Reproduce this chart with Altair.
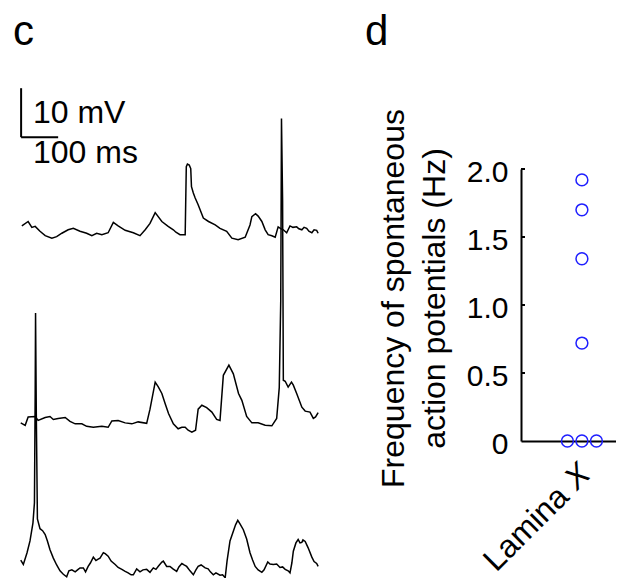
import altair as alt
import pandas as pd

# ---------------- Panel c: three membrane-potential traces ----------------
# time (ms) and voltage (mV, relative to each trace's starting level)
T1_TIME = [5, 22, 32, 41, 54, 68, 86, 99, 113, 130, 144, 162, 180, 194, 207, 221, 238, 252, 265, 284,
           306, 324, 338, 351, 365, 383, 400, 414, 421, 432, 446, 449, 452, 457, 461, 463, 468, 473, 481, 495,
           509, 527, 540, 558, 572, 589, 608, 621, 626, 636, 643, 653, 662, 670, 680, 689, 697, 705, 711, 720,
           729, 737, 747, 753, 761, 767, 774, 780, 788, 794, 801, 805]
T1_MV = [0.8, 1.7, 0.5, 0.7, -0.3, -1.2, -1.7, -1.4, -0.7, 0, 0.3, -0.3, -0.7, -1.2, -0.7, -1.0, -0.6, 1.5, 0.8, -0.1,
         -0.6, -1.2, 0, 1.3, 3.5, 1.7, 0.7, 0, -0.5, -1.0, -1.0, 12.9, 13.4, 13.2, 12.5, 8.8, 7.5, 6.5, 5.1, 2.4,
         1.7, 1.0, 0.3, -0.3, -1.7, -2.0, -1.5, 1.0, 2.7, 3.3, 2.8, 1.7, 0, -1.0, -1.2, -1.5, 0.6, 0.2, 0, -0.6,
         0.8, 0.5, 0.6, 0.2, 0, 0.5, 0.3, -0.3, -0.6, 0, -0.1, -0.7]

T2_TIME = [2, 14, 22, 41, 49, 68, 81, 90, 103, 122, 135, 149, 167, 180, 198, 221, 238, 248, 265, 284,
           302, 319, 342, 351, 365, 373, 383, 392, 401, 414, 427, 437, 446, 454, 464, 474, 481, 491, 504, 518,
           531, 540, 549, 564, 576, 590, 599, 612, 626, 643, 662, 680, 693, 700, 704, 706, 709, 711, 716, 724,
           733, 738, 747, 761, 770, 783, 792, 798, 805]
T2_MV = [-0.1, -0.6, 1.1, 1.2, 0.4, 1.0, 1.2, 0.6, 0.8, 1.0, 0.2, -0.3, -0.3, -0.8, -1.0, -0.8, -1.0, 0.3, 0.4, -0.1,
         -0.3, 0.1, -0.2, 2.7, 8.2, 7.3, 5.9, 3.8, 1.8, -0.3, -1.3, -1.0, -1.0, -1.6, -2.0, -1.6, 2.7, 3.5, 3.0, 2.1,
         0.6, 0.4, 9.6, 11.7, 9.9, 5.9, 4.5, 1.2, -0.1, -0.1, -0.6, -0.7, 0.8, 7.1, 24.9, 62.0, 45.3, 8.6, 8.4, 7.2,
         8.2, 7.6, 5.9, 3.1, 2.3, 2.1, 0.8, 1.1, 2.0]

T3_TIME = [2, 9, 19, 27, 35, 39, 41, 42, 44, 47, 54, 61, 68, 74, 81, 90, 99, 108, 117, 126,
           132, 140, 149, 157, 162, 171, 177, 184, 190, 198, 205, 211, 216, 225, 230, 238, 246, 257, 265, 275,
           284, 292, 300, 306, 315, 324, 332, 342, 351, 360, 367, 374, 383, 387, 396, 405, 413, 423, 429, 437,
           443, 450, 459, 468, 475, 481, 489, 500, 508, 514, 522, 529, 540, 547, 554, 559, 567, 576, 582, 588,
           594, 603, 612, 621, 628, 635, 643, 653, 659, 669, 675, 684, 693, 702, 709, 716, 724, 729, 734, 738,
           745, 751, 756, 761, 764, 770, 778, 788, 794, 801, 805]
T3_MV = [1.6, 0.7, 3.1, 5.5, 9.2, 13.3, 35.7, 52.0, 31.6, 10.0, 8.0, 7.6, 6.8, 5.5, 3.7, 2.0, 0.6, -0.6, -1.3, -1.8,
         -0.6, -0.4, -0.8, -0.3, 0, 0, -0.8, 0.3, 1.0, 2.2, 1.5, 1.8, 2.0, 3.1, 2.9, 2.4, 1.4, 0.7, 0.1, -0.3,
         -0.7, -1.0, -1.4, -1.4, -0.2, -0.8, -0.4, -0.3, -0.9, 0, -0.3, 0.4, 1.2, 1.4, 0.3, 0.3, -0.2, -0.7, 0.2, 0.9,
         0.6, 0.3, -0.6, -1.4, -0.4, 0.3, 0.6, 0, -0.2, -0.8, -1.4, -1.0, -1.5, -1.4, -2.0, 1.4, 5.5, 7.5, 8.8, 9.7,
         9.0, 7.8, 5.9, 3.1, 1.6, 0.3, -0.4, -0.9, -0.4, 1.2, 0.8, 0.7, 0.8, 0.1, 0.2, -0.3, -0.6, -1.0, 1.0, 3.4,
         5.1, 5.8, 5.1, 5.2, 5.7, 5.4, 4.1, 2.2, 1.3, 0.9, 0.3]

TRACE_OFFSETS_MV = [73.1, 33.8, 4.1]   # vertical stacking of the traces

SCALEBAR_MV = 10
SCALEBAR_MS = 100
SCALEBAR_LABELS = ["10 mV", "100 ms"]

# ---------------- Panel d: spontaneous AP frequency ----------------
FREQ_HZ = [1.92, 1.70, 1.34, 0.72, 0.0, 0.0, 0.0]
JITTER = [0, 0, 0, 0, -1, 0, 1]
Y_TICKS = [0, 0.5, 1.0, 1.5, 2.0]
Y_TITLE = ["Frequency of spontaneous", "action potentials (Hz)"]
CATEGORY_WORD = "Lamina"
CATEGORY_MARK = "X"

FONT = "Liberation Sans"

# ---------------- build tables ----------------
rows = []
for k, (ts, vs) in enumerate([(T1_TIME, T1_MV), (T2_TIME, T2_MV), (T3_TIME, T3_MV)]):
    for t, v in zip(ts, vs):
        rows.append({"trace": k, "t": t, "v": v + TRACE_OFFSETS_MV[k]})
df_c = pd.DataFrame(rows)

sb_t0, sb_v0 = 3, 92.0
df_bar = pd.DataFrame({
    "t": [sb_t0, sb_t0], "t2": [sb_t0, sb_t0 + SCALEBAR_MS],
    "v": [sb_v0, sb_v0], "v2": [sb_v0 + SCALEBAR_MV, sb_v0],
})
df_bar_txt = pd.DataFrame({"t": [35, 35], "v": [94.9, 86.7], "label": SCALEBAR_LABELS})

df_d = pd.DataFrame({"freq": FREQ_HZ, "jit": JITTER})
df_ticks = pd.DataFrame({"freq": Y_TICKS[1:]})

xs_c = alt.Scale(domain=[0, 810], range=[-501, -201], nice=False, zero=False)
ys_c = alt.Scale(domain=[0, 100], range=[419, -71], nice=False, zero=False)

lines = alt.Chart(df_c).mark_line(color="black", strokeWidth=1.5).encode(
    x=alt.X("t:Q", scale=xs_c, axis=None),
    y=alt.Y("v:Q", scale=ys_c, axis=None),
    detail="trace:N",
)
bar = alt.Chart(df_bar).mark_rule(color="black", strokeWidth=2).encode(
    x="t:Q", x2="t2:Q", y="v:Q", y2="v2:Q"
)
bar_txt = alt.Chart(df_bar_txt).mark_text(
    align="left", baseline="alphabetic", fontSize=32, font=FONT, color="black"
).encode(x="t:Q", y="v:Q", text="label:N")

panel_c = alt.layer(lines, bar, bar_txt)

letters = alt.Chart(pd.DataFrame({"s": ["c", "d"], "px": [-508, -156]})).mark_text(
    align="left", baseline="alphabetic", fontSize=42, font=FONT, color="black"
).encode(x=alt.X("px:Q", scale=None), y=alt.value(-124), text="s:N")

xs_d = alt.Scale(domain=[-4.2, 2.35], nice=False, zero=False)

points = alt.Chart(df_d).mark_point(
    shape="circle", filled=False, size=140, strokeWidth=1.5, color="#1f1fff", opacity=1
).encode(
    x=alt.X("jit:Q", scale=xs_d,
            axis=alt.Axis(values=[0], labelExpr=f"'{CATEGORY_WORD}'", labelAngle=315,
                          labelAlign="right", labelBaseline="middle", labelFontSize=32,
                          labelPadding=50, labelOffset=-19, ticks=False, tickSize=0,
                          domainColor="black", domainWidth=2, grid=False, title=None,
                          labelFlush=False, labelColor="black", labelFont=FONT)),
    y=alt.Y("freq:Q", scale=alt.Scale(domain=[0, 2], nice=False),
            axis=alt.Axis(values=Y_TICKS,
                          labelExpr="datum.value == 0 ? '0' : format(datum.value, '.1f')",
                          labelFontSize=30, labelColor="black", labelFont=FONT,
                          labelPadding=13, labelOffset=3, ticks=False, tickSize=0,
                          domainColor="black", domainWidth=2, grid=False,
                          labelFlush=False, labelOverlap=False,
                          title=Y_TITLE, titleFontSize=32, titleFontWeight="normal",
                          titleColor="black", titleFont=FONT, titleAngle=270,
                          titleAlign="center", titleBaseline="middle",
                          titleX=-128, titleY=129, titleLineHeight=41)),
)
italic_x = alt.Chart(pd.DataFrame({"s": [CATEGORY_MARK]})).mark_text(
    align="right", baseline="middle", angle=315, fontSize=32, font=FONT,
    fontStyle="italic", color="black"
).encode(x=alt.value(64), y=alt.value(300), text="s:N")

inner_ticks = alt.Chart(df_ticks).mark_rule(color="black", strokeWidth=2).encode(
    y="freq:Q", x=alt.value(0), x2=alt.value(4)
)

panel_d = alt.layer(points, inner_ticks, italic_x, letters)

chart = alt.layer(panel_d, panel_c).resolve_scale(
    x="independent", y="independent"
).properties(
    width=95, height=272,
    padding={"left": 513, "top": 161, "right": 0, "bottom": 137},
    autosize=alt.AutoSizeParams(type="none"),
).configure(font=FONT, background="white").configure_view(stroke=None)

chart.save("out.html", embed_options={"renderer": "svg", "actions": False})
